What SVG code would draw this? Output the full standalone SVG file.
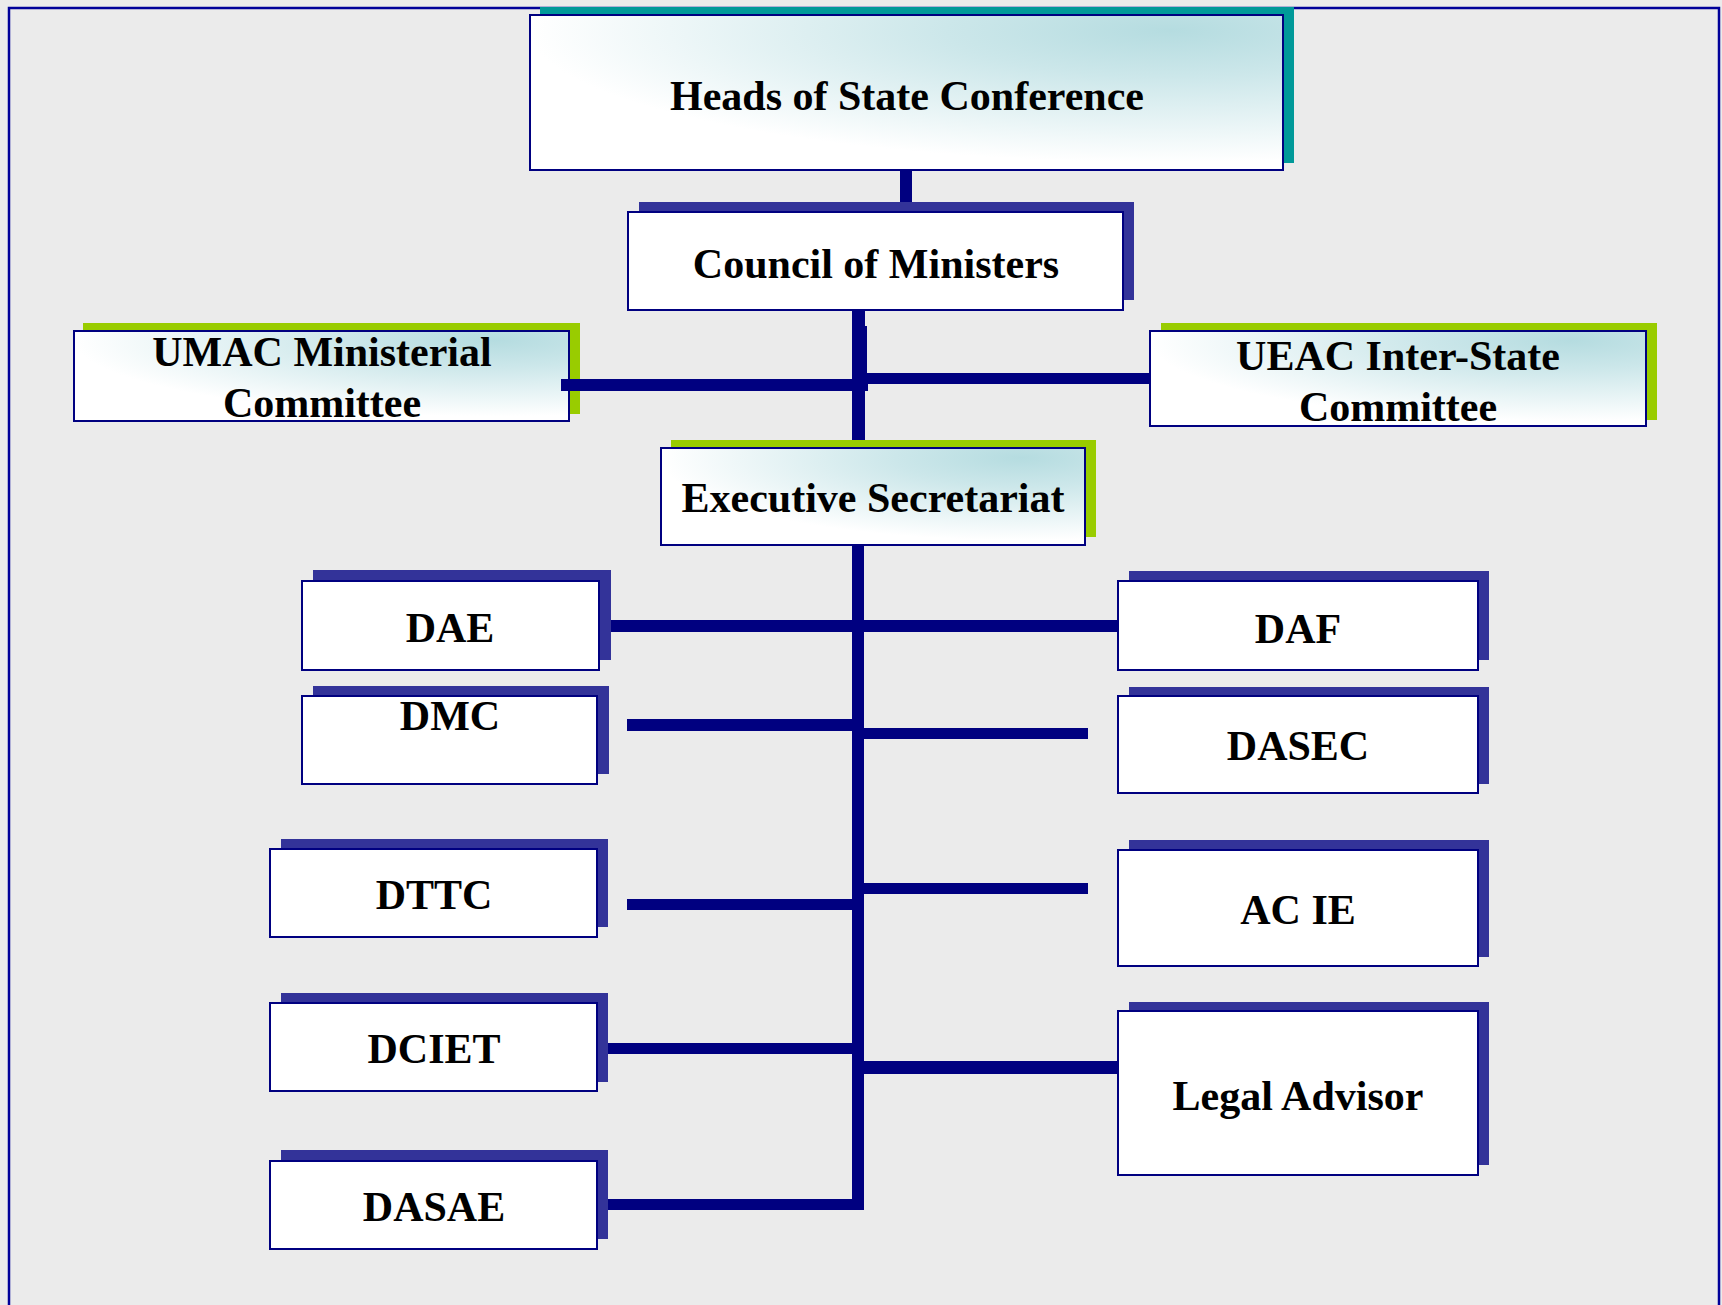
<svg xmlns="http://www.w3.org/2000/svg" width="1722" height="1305" viewBox="0 0 1722 1305">
<defs>
<radialGradient id="teal" cx="0.85" cy="0.1" r="0.85" fx="0.85" fy="0.1">
<stop offset="0" stop-color="#B5DCE0"/>
<stop offset="0.35" stop-color="#CCE7EA"/>
<stop offset="1" stop-color="#FFFFFF"/>
</radialGradient>
<style>
.frame{fill:none;stroke:#000099;stroke-width:2.5}
.box{stroke:#000080;stroke-width:2}
.white{fill:#FFFFFF}
.grad{fill:url(#teal)}
.sh-blue{fill:#333399}
.sh-green{fill:#99CC00}
.sh-teal{fill:#009999}
.conn{fill:#000080}
text{font-family:"Liberation Serif","Times New Roman",serif;font-weight:bold;font-size:42px;fill:#000000;text-anchor:middle}
</style>
</defs>
<rect x="0" y="0" width="1722" height="1305" fill="#EBEBEB"/>
<path class="frame" d="M9,1305 V8 H1719 V1305"/>

<g id="heads">
<rect class="sh-teal" x="540" y="7" width="754" height="156"/>
<rect class="box grad" x="530" y="15" width="753" height="155"/>
<text x="907" y="110">Heads of State Conference</text>
</g>

<g id="council">
<rect class="sh-blue" x="639" y="202" width="495" height="98"/>
<rect class="box white" x="628" y="212" width="495" height="98"/>
<text x="876" y="278">Council of Ministers</text>
</g>

<g id="umac">
<rect class="sh-green" x="83" y="323" width="497" height="91"/>
<rect class="box grad" x="74" y="331" width="495" height="90"/>
<text x="322" y="366">UMAC Ministerial</text>
<text x="322" y="417">Committee</text>
</g>

<g id="ueac">
<rect class="sh-green" x="1161" y="323" width="496" height="97"/>
<rect class="box grad" x="1150" y="331" width="496" height="95"/>
<text x="1398" y="370">UEAC Inter-State</text>
<text x="1398" y="421">Committee</text>
</g>

<g id="exec">
<rect class="sh-green" x="671" y="440" width="425" height="97"/>
<rect class="box grad" x="661" y="448" width="424" height="97"/>
<text x="873" y="512">Executive Secretariat</text>
</g>

<g id="dae">
<rect class="sh-blue" x="313" y="570" width="298" height="90"/>
<rect class="box white" x="302" y="581" width="297" height="89"/>
<text x="450" y="642">DAE</text>
</g>

<g id="daf">
<rect class="sh-blue" x="1129" y="571" width="360" height="89"/>
<rect class="box white" x="1118" y="581" width="360" height="89"/>
<text x="1298" y="643">DAF</text>
</g>

<g id="dmc">
<rect class="sh-blue" x="313" y="686" width="296" height="88"/>
<rect class="box white" x="302" y="696" width="295" height="88"/>
<text x="450" y="730">DMC</text>
</g>

<g id="dasec">
<rect class="sh-blue" x="1129" y="687" width="360" height="97"/>
<rect class="box white" x="1118" y="696" width="360" height="97"/>
<text x="1298" y="760">DASEC</text>
</g>

<g id="dttc">
<rect class="sh-blue" x="281" y="839" width="327" height="88"/>
<rect class="box white" x="270" y="849" width="327" height="88"/>
<text x="434" y="909">DTTC</text>
</g>

<g id="acie">
<rect class="sh-blue" x="1129" y="840" width="360" height="117"/>
<rect class="box white" x="1118" y="850" width="360" height="116"/>
<text x="1298" y="924">AC IE</text>
</g>

<g id="dciet">
<rect class="sh-blue" x="281" y="993" width="327" height="89"/>
<rect class="box white" x="270" y="1003" width="327" height="88"/>
<text x="434" y="1063">DCIET</text>
</g>

<g id="legal">
<rect class="sh-blue" x="1129" y="1002" width="360" height="163"/>
<rect class="box white" x="1118" y="1011" width="360" height="164"/>
<text x="1298" y="1110">Legal Advisor</text>
</g>

<g id="dasae">
<rect class="sh-blue" x="281" y="1150" width="327" height="89"/>
<rect class="box white" x="270" y="1161" width="327" height="88"/>
<text x="434" y="1221">DASAE</text>
</g>

<g id="connectors">
<rect class="conn" x="900" y="171" width="12" height="31"/>
<rect class="conn" x="852" y="311" width="13" height="129"/>
<rect class="conn" x="853" y="326" width="14" height="64"/>
<rect class="conn" x="561" y="379" width="307" height="12"/>
<rect class="conn" x="865" y="373" width="284" height="11"/>
<rect class="conn" x="852" y="546" width="12" height="664"/>
<rect class="conn" x="611" y="620" width="506" height="12"/>
<rect class="conn" x="627" y="719" width="230" height="12"/>
<rect class="conn" x="862" y="728" width="226" height="11"/>
<rect class="conn" x="627" y="899" width="230" height="11"/>
<rect class="conn" x="862" y="883" width="226" height="11"/>
<rect class="conn" x="608" y="1043" width="249" height="11"/>
<rect class="conn" x="862" y="1061" width="255" height="13"/>
<rect class="conn" x="608" y="1199" width="256" height="11"/>
</g>
</svg>
